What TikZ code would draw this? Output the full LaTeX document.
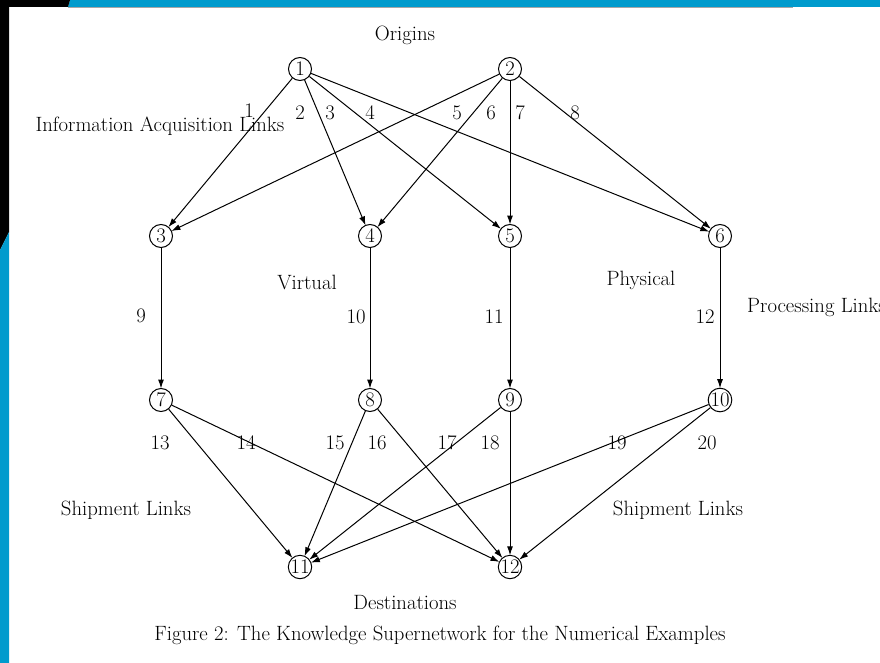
\documentclass[tikz,border=0pt]{standalone}
\usetikzlibrary{arrows.meta}
\definecolor{frameblue}{RGB}{0,155,205}
\begin{document}
\begin{tikzpicture}[x=1pt,y=-1pt,
  every node/.style={font=\fontsize{20.7}{24}\selectfont},
  nd/.style={circle,draw,line width=1pt,inner sep=0pt,minimum size=23pt},
  lk/.style={-{Latex[length=9pt,width=6pt]},line width=1pt,shorten >=-0.5pt},
  txt/.style={inner sep=0pt}]
\useasboundingbox (0,0) rectangle (880,663);
\fill[white] (0,0) rectangle (880,663);
\fill[frameblue] (70,0) -- (880,0) -- (880,7) -- (68,7) -- cycle;
\draw[gray!70,line width=0.8pt] (68,7.6) -- (793,7.6);
\fill[black] (0,0) -- (70,0) -- (68,7) -- (9,7) -- (9,232) -- (0,250) -- cycle;
\fill[frameblue] (0,250) -- (9,232) -- (9,663) -- (0,663) -- cycle;

\node[nd] (n1) at (300,69) {1};
\node[nd] (n2) at (510,69) {2};
\node[nd] (n3) at (161,236) {3};
\node[nd] (n4) at (370,236) {4};
\node[nd] (n5) at (510,236) {5};
\node[nd] (n6) at (720,236) {6};
\node[nd] (n7) at (161,400) {7};
\node[nd] (n8) at (370,400) {8};
\node[nd] (n9) at (510,400) {9};
\node[nd] (n10) at (720,400) {10};
\node[nd] (n11) at (300,567) {11};
\node[nd] (n12) at (510,567) {12};

\foreach \a/\b in {n1/n3,n1/n4,n1/n5,n1/n6,n2/n3,n2/n4,n2/n5,n2/n6,
  n3/n7,n4/n8,n5/n9,n6/n10,
  n7/n11,n7/n12,n8/n11,n8/n12,n9/n11,n9/n12,n10/n11,n10/n12}
  \draw[lk] (\a) -- (\b);

\node[txt] (lo) at (405,35) {Origins};
\node[txt] (lia) at (160,126) {Information Acquisition Links};
\node[txt] (l1) at (249,111) {1};
\node[txt] (l2) at (300,113) {2};
\node[txt] (l3) at (330,113) {3};
\node[txt] (l4) at (370,113) {4};
\node[txt] (l5) at (457,113) {5};
\node[txt] (l6) at (491,113) {6};
\node[txt] (l7) at (520,113) {7};
\node[txt] (l8) at (575,113) {8};
\node[txt] (lv) at (307,282) {Virtual};
\node[txt] (lp) at (641,280) {Physical};
\node[txt,anchor=west] (lpl) at (747,307) {Processing Links};
\node[txt] (l9) at (141,316) {9};
\node[txt] (l10) at (356,317) {10};
\node[txt] (l11) at (494,317) {11};
\node[txt] (l12) at (705,317) {12};
\node[txt] (l13) at (160,443) {13};
\node[txt] (l14) at (246,443) {14};
\node[txt] (l15) at (335,443) {15};
\node[txt] (l16) at (377,443) {16};
\node[txt] (l17) at (447,443) {17};
\node[txt] (l18) at (490,443) {18};
\node[txt] (l19) at (617,443) {19};
\node[txt] (l20) at (707,443) {20};
\node[txt] (ls1) at (126,510) {Shipment Links};
\node[txt] (ls2) at (678,510) {Shipment Links};
\node[txt] (ld) at (405,603) {Destinations};
\node[txt] (cap) at (440,635) {Figure 2: The Knowledge Supernetwork for the Numerical Examples};
\end{tikzpicture}
\end{document}
